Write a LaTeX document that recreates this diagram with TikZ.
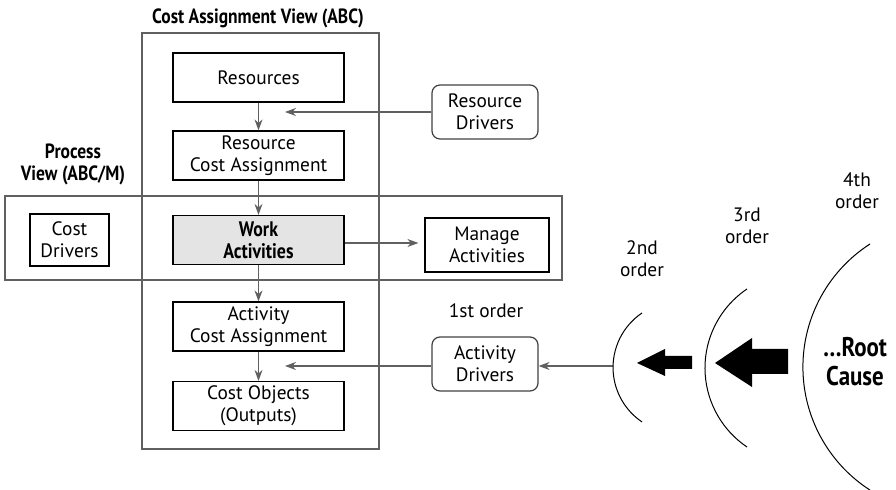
\documentclass[tikz,border=0pt]{standalone}
\usepackage{fontspec}
\setmainfont{PT Sans}
\newfontfamily\condb{PT Sans}[FakeStretch=0.85]
\usetikzlibrary{arrows.meta}
\definecolor{lgray}{HTML}{606060}
\definecolor{wafill}{HTML}{E4E4E4}
\begin{document}
\begin{tikzpicture}[x=0.5pt,y=-0.5pt,
  every node/.style={font=\fontsize{9.7}{11}\selectfont},
  box/.style={draw=black, line width=0.6pt, align=center, inner sep=0pt, minimum width=85.5pt, minimum height=24.5pt},
  drv/.style={draw=black!75, line width=0.6pt, rounded corners=4pt, align=center, inner sep=0pt, minimum width=53pt, minimum height=27pt},
  frame/.style={draw=lgray, line width=0.7pt},
  arr/.style={draw=lgray, line width=0.6pt, -{Stealth[length=5.5pt,width=4pt]}},
  lbl/.style={align=center, inner sep=0pt},
  blbl/.style={align=center, inner sep=0pt, font=\condb\bfseries\fontsize{10.3}{11}\selectfont},
  arc/.style={draw=black, line width=0.5pt}
]
\useasboundingbox (0,0) rectangle (896,490);
\clip (0,0) rectangle (896,490);
% frames
\draw[frame] (142,33) rectangle (379,449);
\draw[frame] (5,196) rectangle (562,280);
% titles
\node[blbl] (t1) at (258,18) {Cost Assignment View (ABC)};
\node[blbl] (t2) at (73,164) {Process\\View (ABC/M)};
% boxes
\node[box] (res) at (258.5,77.5) {Resources};
\node[box] (rca) at (258.5,155.5) {Resource\\Cost Assignment};
\node[box, fill=wafill, font=\condb\bfseries\fontsize{10.5}{11}\selectfont] (wa) at (258.5,240) {Work\\Activities};
\node[box] (aca) at (258.5,326.5) {Activity\\Cost Assignment};
\node[box] (co) at (258.5,406) {Cost Objects\\(Outputs)};
\node[box, minimum width=39.5pt, minimum height=26pt] (cd) at (69.5,240) {Cost\\Drivers};
\node[box, minimum width=62pt, minimum height=27pt] (ma) at (487,245) {Manage\\Activities};
\node[drv] (rd) at (485,112) {Resource\\Drivers};
\node[drv] (ad) at (485,364) {Activity\\Drivers};
% free ends
\coordinate (rdt) at (285,112);
\coordinate (adt) at (285,366);
\coordinate (o2) at (613,366);
% connectors
\draw[arr] (res) -- (rca);
\draw[arr] (rca) -- (wa);
\draw[arr] (wa) -- (aca);
\draw[arr] (aca) -- (co);
\draw[arr] (rd.west) -- (rdt);
\draw[arr] (ad.west |- adt) -- (adt);
\draw[arr, shorten >=3pt] (wa.east |- 0,243) -- (ma.west |- 0,243);
\draw[arr] (o2) -- (ad.east |- o2);
% order labels
\node[lbl] (o1l) at (486,311) {1st order};
\node[lbl] (o2l) at (642,259) {2nd\\order};
\node[lbl] (o3l) at (747,226) {3rd\\order};
\node[lbl] (o4l) at (857,191) {4th\\order};
% arcs
\draw[arc] (642,313) arc[start angle=236, end angle=124, radius=65.7];
\draw[arc] (747,289) arc[start angle=236, end angle=124, radius=95.3];
\draw[arc] (870,244) arc[start angle=237.2, end angle=122.8, radius=146.4];
% thick arrows
\fill[black] (637,363) -- (665,349) -- (665,356) -- (692,356) -- (692,369) -- (665,369) -- (665,376) -- cycle;
\fill[black] (715,363) -- (752,338) -- (752,349) -- (788,349) -- (788,374) -- (752,374) -- (752,387) -- cycle;
% root cause
\node[blbl, font=\condb\bfseries\fontsize{13.5}{14.5}\selectfont] (rc) at (855,362) {\dots Root\\Cause};
\end{tikzpicture}
\end{document}
